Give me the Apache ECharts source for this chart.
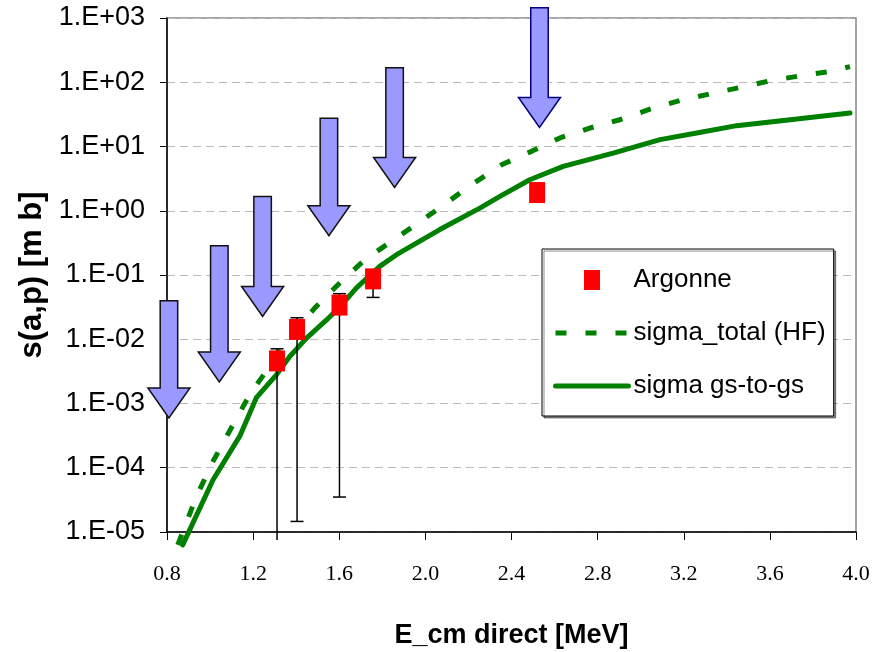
<!DOCTYPE html>
<html>
<head>
<meta charset="utf-8">
<script src="https://cdn.jsdelivr.net/npm/echarts@6/dist/echarts.min.js"></script>
<style>
html, body { margin: 0; padding: 0; background: #fff; }
#chart { width: 872px; height: 652px; }
</style>
</head>
<body>
<div id="chart"></div>
<script>
// E_cm in MeV, cross section in mb
var argonneE = [1.311, 1.404, 1.601, 1.757, 2.519];
var argonneS = [4.6e-3, 1.42e-2, 3.4e-2, 8.7e-2, 1.92];
var errLow = [7.5e-6, 1.46e-5, 3.5e-5, 4.48e-2];
var errHigh = [7.1e-3, 2.16e-2, 5.12e-2, 0.1];

var totalE = [0.850, 0.937, 1.014, 1.099, 1.184, 1.277, 1.370, 1.486, 1.602, 1.719, 1.881, 2.067, 2.207,
	2.354, 2.493, 2.625, 2.764, 2.903, 3.046, 3.182, 3.322, 3.469, 3.604, 3.743, 3.883, 3.972];
var totalS = [6.3e-6, 3.6e-5, 1.26e-4, 4.2e-4, 1.37e-3, 3.8e-3, 1.08e-2, 3.06e-2, 7.5e-2, 0.173, 0.41, 1.11, 2.45,
	5.2, 8.4, 13.6, 19.4, 26.1, 38.4, 52, 66, 84, 106, 126, 148, 175];

var gsE = [0.873, 1.014, 1.138, 1.215, 1.308, 1.370, 1.448, 1.541, 1.603, 1.680, 1.788, 1.866, 2.067,
	2.253, 2.346, 2.485, 2.640, 2.872, 3.090, 3.260, 3.446, 3.725, 3.972];
var gsS = [6.3e-6, 6.5e-5, 3.1e-4, 1.23e-3, 2.8e-3, 5.4e-3, 1.04e-2, 2.0e-2, 3.2e-2, 6.3e-2, 0.136, 0.207, 0.51,
	1.10, 1.67, 3.04, 4.9, 7.9, 12.8, 16.2, 21.1, 26.8, 33.2];

// arrows: energy, top of shaft, tip
var arrowE = [0.809, 1.043, 1.244, 1.552, 1.857, 2.530];
var arrowTop = [0.0398, 0.286, 1.67, 27.4, 168, 1445];
var arrowTip = [5.94e-4, 2.16e-3, 2.27e-2, 0.409, 2.31, 19.8];

var xTicks = ["0.8", "1.2", "1.6", "2.0", "2.4", "2.8", "3.2", "3.6", "4.0"];
var yTicks = ["1.E-05", "1.E-04", "1.E-03", "1.E-02", "1.E-01", "1.E+00", "1.E+01", "1.E+02", "1.E+03"];

var sans = "'Liberation Sans', Arial, sans-serif";
var green = "#008000";

function zip(a, b, c) {
	return a.map(function (v, i) {
		return c ? [v, b[i], c[i]] : [v, b[i]];
	});
}

function renderArrow(params, api) {
	var top = api.coord([api.value(0), api.value(1)]);
	var tip = api.coord([api.value(0), api.value(2)]);
	var x = top[0];
	var neck = tip[1] - 30;
	var hw = 8.75, HW = 21;
	return {
		type: "polygon",
		shape: {
			points: [[x - hw, top[1]], [x + hw, top[1]], [x + hw, neck], [x + HW, neck], [x, tip[1]], [x - HW, neck], [x - hw, neck]]
		},
		style: {
			fill: "#9999ff",
			stroke: params.dataIndex == arrowE.length - 1 ? "#000080" : "#111",
			lineWidth: 1.5
		}
	};
}

function renderErr(params, api) {
	var lo = api.coord([api.value(0), api.value(1)]);
	var hi = api.coord([api.value(0), api.value(2)]);
	var style = { stroke: "#000", lineWidth: 1.5 };
	var kids = [
		{ type: "line", shape: { x1: lo[0], y1: lo[1], x2: hi[0], y2: hi[1] }, style: style },
		{ type: "line", shape: { x1: hi[0] - 6.5, y1: hi[1], x2: hi[0] + 6.5, y2: hi[1] }, style: style }
	];
	// no lower cap when the bar runs off the axis
	if (api.value(1) >= 1e-5) {
		kids.push({ type: "line", shape: { x1: lo[0] - 6.5, y1: lo[1], x2: lo[0] + 6.5, y2: lo[1] }, style: style });
	}
	return { type: "group", children: kids };
}

var myChart = echarts.init(document.getElementById("chart"), null, { renderer: "canvas" });
var option = {
	animation: false,
	grid: {
		left: 167,
		right: 16,
		top: 18,
		bottom: 120,
		outerBoundsMode: "none",
		show: true,
		borderColor: "#888",
		borderWidth: 1.5
	},
	legend: {
		left: 542,
		top: 249,
		orient: "vertical",
		backgroundColor: "#fff",
		borderColor: "#000",
		borderWidth: 1,
		shadowColor: "rgba(0,0,0,0.45)",
		shadowOffsetX: 2,
		shadowOffsetY: 2,
		padding: [18, 8, 17, 11],
		itemWidth: 73,
		itemHeight: 20,
		itemGap: 27,
		itemTextGap: 6,
		lineStyle: { width: 5 },
		textStyle: { fontFamily: sans, fontSize: 26, color: "#000" },
		data: [
			{ name: "Argonne", icon: "path://M0,0h16v20h-16z" },
			{ name: "sigma_total (HF)", itemStyle: { opacity: 0 }, lineStyle: { width: 5 } },
			{ name: "sigma gs-to-gs", itemStyle: { opacity: 0 }, lineStyle: { width: 5 } }
		]
	},
	xAxis: {
		type: "value",
		min: 0.8,
		max: 4.0,
		interval: 0.4,
		name: "E_cm direct [MeV]",
		nameLocation: "middle",
		nameGap: 90,
		nameTextStyle: { fontFamily: sans, fontSize: 27, fontWeight: "bold", color: "#000" },
		axisLine: { lineStyle: { color: "#000", width: 1.5 } },
		axisTick: { length: 8, lineStyle: { color: "#000", width: 1 } },
		axisLabel: {
			margin: 31,
			fontFamily: "'Liberation Serif', 'Times New Roman', serif",
			fontSize: 22,
			color: "#000",
			formatter: function (v) {
				return xTicks[Math.round((v - 0.8) / 0.4)];
			}
		},
		splitLine: { show: false }
	},
	yAxis: {
		type: "log",
		logBase: 10,
		min: 1e-5,
		max: 1e3,
		interval: 1,
		name: "s(a,p) [m b]",
		nameLocation: "middle",
		nameGap: 100,
		nameTextStyle: { fontFamily: sans, fontSize: 31, fontWeight: "bold", color: "#000" },
		axisLine: { lineStyle: { color: "#000", width: 1.5 } },
		axisTick: { length: 7, lineStyle: { color: "#000", width: 1 } },
		axisLabel: {
			margin: 22,
			fontFamily: sans,
			fontSize: 27,
			color: "#000",
			formatter: function (v) {
				return yTicks[Math.round(Math.log10(v)) + 5];
			}
		},
		splitLine: { lineStyle: { color: "#bbb", width: 1, type: [8, 5] } }
	},
	series: [
		{
			name: "sigma_total (HF)",
			type: "line",
			data: zip(totalE, totalS),
			symbol: "none",
			clip: false,
			z: 2,
			lineStyle: { color: green, width: 5, type: [11, 19], cap: "butt" },
			itemStyle: { color: green }
		},
		{
			name: "sigma gs-to-gs",
			type: "line",
			data: zip(gsE, gsS),
			symbol: "none",
			clip: false,
			z: 2,
			lineStyle: { color: green, width: 5, cap: "round" },
			itemStyle: { color: green }
		},
		{
			name: "err",
			type: "custom",
			data: zip(argonneE.slice(0, errLow.length), errLow, errHigh),
			encode: { x: 0, y: [1, 2] },
			renderItem: renderErr,
			clip: false,
			z: 3
		},
		{
			name: "Argonne",
			type: "scatter",
			data: zip(argonneE, argonneS),
			symbol: "rect",
			symbolSize: [16, 21],
			z: 4,
			itemStyle: { color: "#ff0000", opacity: 1 }
		},
		{
			name: "arrows",
			type: "custom",
			data: zip(arrowE, arrowTop, arrowTip),
			encode: { x: 0, y: [1, 2] },
			renderItem: renderArrow,
			clip: false,
			z: 5
		}
	]
};
myChart.setOption(option);
window.addEventListener("resize", myChart.resize);
</script>
</body>
</html>
